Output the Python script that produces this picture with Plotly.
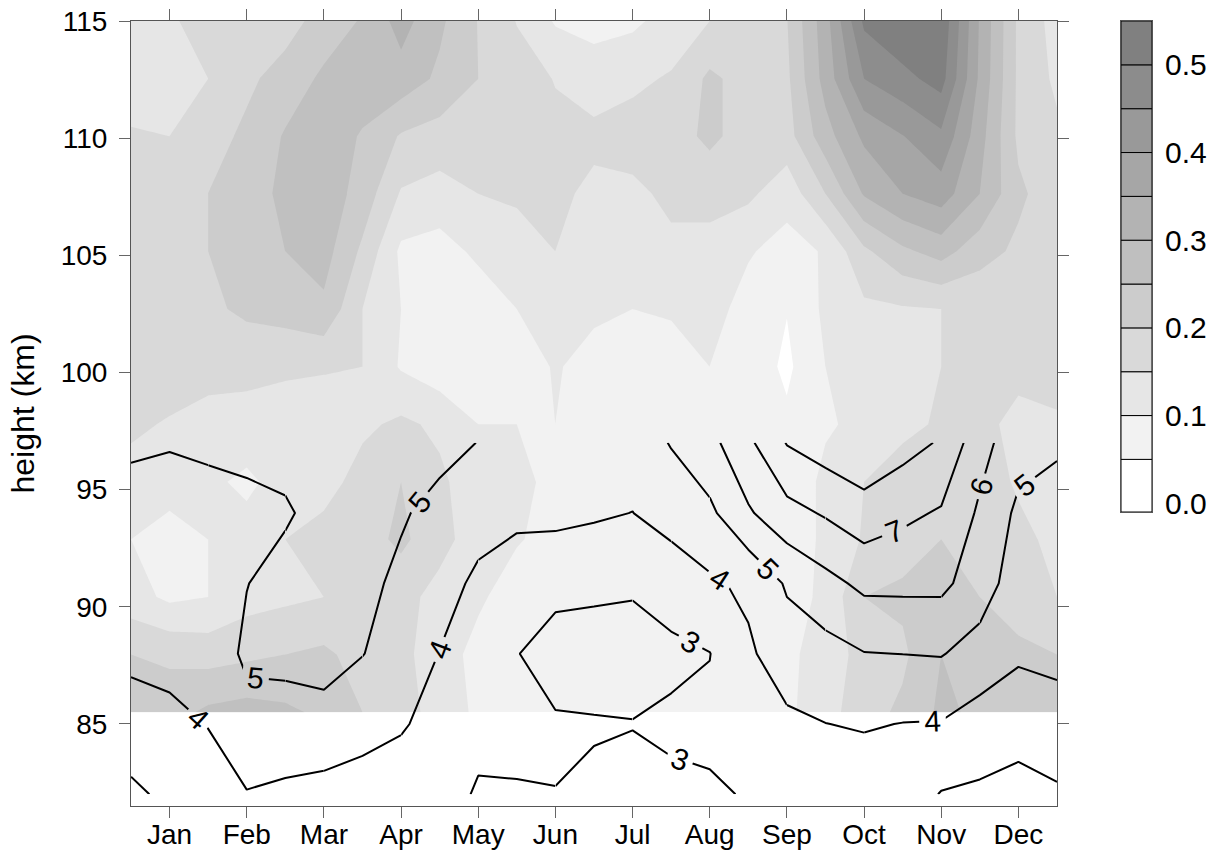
import plotly.graph_objects as go

# ---------------- data ----------------
month_labels = ["Jan", "Feb", "Mar", "Apr", "May", "Jun", "Jul", "Aug", "Sep", "Oct", "Nov", "Dec"]
month_ticks = [1, 2, 3, 4, 5, 6, 7, 8, 9, 10, 11, 12]
height_ticks = [85, 90, 95, 100, 105, 110, 115]

# half-month grid
grid_months = [0.5, 1.0, 1.5, 2.0, 2.5, 3.0, 3.5, 4.0, 4.5, 5.0, 5.5, 6.0, 6.5,
               7.0, 7.5, 8.0, 8.5, 9.0, 9.5, 10.0, 10.5, 11.0, 11.5, 12.0, 12.5]

# shaded field (rows = heights, columns = grid_months)
fill_heights = [85.5, 87.96, 90.42, 92.88, 95.33, 97.79, 100.25, 102.71, 105.17, 107.63, 110.08, 112.54, 115.0]
fill_values = [
    [0.22, 0.23, 0.26, 0.27, 0.26, 0.24, 0.20, 0.17, 0.13, 0.09, 0.07, 0.07, 0.07, 0.07, 0.07, 0.07, 0.07, 0.09, 0.13, 0.18, 0.21, 0.26, 0.24, 0.22, 0.21],
    [0.20, 0.19, 0.18, 0.19, 0.20, 0.21, 0.18, 0.16, 0.13, 0.08, 0.07, 0.07, 0.07, 0.07, 0.07, 0.07, 0.07, 0.09, 0.12, 0.17, 0.19, 0.25, 0.22, 0.21, 0.20],
    [0.12, 0.09, 0.10, 0.13, 0.14, 0.15, 0.17, 0.17, 0.13, 0.11, 0.07, 0.07, 0.07, 0.07, 0.07, 0.07, 0.07, 0.08, 0.11, 0.20, 0.21, 0.22, 0.20, 0.18, 0.15],
    [0.10, 0.08, 0.10, 0.12, 0.15, 0.17, 0.18, 0.21, 0.17, 0.12, 0.105, 0.08, 0.07, 0.07, 0.07, 0.07, 0.07, 0.07, 0.11, 0.155, 0.18, 0.20, 0.19, 0.16, 0.14],
    [0.13, 0.12, 0.11, 0.09, 0.12, 0.13, 0.17, 0.20, 0.16, 0.12, 0.11, 0.09, 0.07, 0.07, 0.07, 0.07, 0.07, 0.07, 0.11, 0.15, 0.17, 0.18, 0.17, 0.145, 0.13],
    [0.16, 0.145, 0.13, 0.13, 0.12, 0.12, 0.14, 0.16, 0.14, 0.10, 0.10, 0.10, 0.08, 0.07, 0.07, 0.07, 0.07, 0.06, 0.095, 0.11, 0.14, 0.155, 0.155, 0.145, 0.14],
    [0.18, 0.18, 0.17, 0.165, 0.16, 0.155, 0.15, 0.095, 0.07, 0.06, 0.07, 0.105, 0.08, 0.07, 0.08, 0.10, 0.08, 0.04, 0.10, 0.12, 0.13, 0.15, 0.17, 0.155, 0.18],
    [0.18, 0.18, 0.19, 0.21, 0.22, 0.24, 0.15, 0.10, 0.07, 0.07, 0.10, 0.12, 0.11, 0.10, 0.105, 0.12, 0.08, 0.052, 0.11, 0.14, 0.145, 0.15, 0.16, 0.17, 0.20],
    [0.17, 0.18, 0.20, 0.22, 0.25, 0.27, 0.19, 0.09, 0.08, 0.11, 0.12, 0.15, 0.13, 0.12, 0.14, 0.13, 0.105, 0.08, 0.105, 0.19, 0.24, 0.27, 0.22, 0.19, 0.17],
    [0.17, 0.18, 0.20, 0.23, 0.26, 0.28, 0.23, 0.145, 0.13, 0.15, 0.16, 0.16, 0.14, 0.14, 0.16, 0.17, 0.16, 0.12, 0.20, 0.305, 0.35, 0.375, 0.30, 0.21, 0.17],
    [0.155, 0.15, 0.18, 0.21, 0.255, 0.28, 0.245, 0.195, 0.18, 0.17, 0.17, 0.16, 0.16, 0.17, 0.18, 0.21, 0.18, 0.18, 0.28, 0.36, 0.398, 0.44, 0.32, 0.19, 0.16],
    [0.125, 0.135, 0.15, 0.19, 0.22, 0.26, 0.28, 0.28, 0.24, 0.20, 0.17, 0.148, 0.13, 0.14, 0.155, 0.21, 0.18, 0.19, 0.32, 0.45, 0.485, 0.52, 0.34, 0.19, 0.14],
    [0.12, 0.14, 0.18, 0.19, 0.18, 0.22, 0.255, 0.32, 0.26, 0.198, 0.148, 0.095, 0.08, 0.09, 0.12, 0.15, 0.18, 0.198, 0.33, 0.51, 0.545, 0.54, 0.345, 0.19, 0.13],
]

# line-contoured field (rows = heights, columns = grid_months)
line_heights = [82, 85, 88, 91, 94, 97]
line_values = [
    [4.10, 3.89, 3.60, 3.95, 3.90, 3.70, 3.70, 3.70, 3.40, 2.90, 2.90, 2.98, 2.70, 2.70, 2.80, 2.90, 3.05, 3.30, 3.40, 3.50, 3.55, 2.95, 2.85, 2.70, 2.90],
    [3.70, 3.70, 4.03, 4.70, 4.33, 4.60, 4.25, 4.056, 3.80, 3.275, 3.36, 3.15, 3.137, 3.03, 3.17, 3.18, 3.50, 3.80, 3.99, 4.07, 3.98, 3.95, 3.56, 3.35, 3.47],
    [4.15, 4.37, 4.50, 5.15, 5.42, 5.42, 5.03, 4.50, 3.98, 3.55, 3.05, 2.40, 2.10, 2.58, 2.78, 2.98, 3.85, 4.54, 4.65, 4.97, 5.01, 5.05, 4.63, 4.15, 4.32],
    [4.50, 4.60, 4.70, 4.98, 5.30, 5.50, 5.25, 4.80, 4.30, 3.85, 3.50, 3.42, 3.44, 3.135, 3.48, 3.85, 4.19, 5.11, 5.70, 6.22, 6.23, 6.23, 5.48, 4.50, 4.60],
    [4.75, 4.80, 4.85, 4.70, 4.90, 5.30, 5.25, 5.10, 4.70, 4.30, 4.20, 4.20, 4.09, 3.99, 4.35, 4.80, 5.88, 6.67, 7.10, 7.59, 7.21, 6.90, 5.85, 4.80, 4.80],
    [5.10, 5.03, 5.07, 5.30, 5.30, 5.40, 5.40, 5.40, 5.30, 4.98, 4.60, 4.60, 4.50, 4.40, 5.06, 5.70, 6.80, 8.05, 8.50, 8.82, 8.37, 7.90, 6.35, 5.40, 5.07],
]

# where each line level carries its in-line label:
# level -> list of (first row idx, last row idx, first col idx, last col idx, labelled)
label_plan = {
    3: [(0, 1, 0, 11, False), (0, 1, 11, 16, True), (0, 1, 16, 24, False),
        (1, 5, 0, 13, False), (1, 5, 13, 16, True), (1, 5, 16, 24, False)],
    4: [(0, 5, 0, 5, True), (0, 5, 5, 7, False), (0, 5, 7, 9, True), (0, 5, 9, 14, False),
        (0, 5, 14, 17, True), (0, 5, 17, 19, False), (0, 5, 19, 24, True)],
    5: [(0, 5, 0, 2, False), (0, 5, 2, 4, True), (0, 5, 4, 6, False), (0, 5, 6, 9, True),
        (0, 5, 9, 15, False), (0, 5, 15, 18, True), (0, 5, 18, 22, False), (0, 5, 22, 24, True)],
    6: [(0, 5, 0, 21, False), (0, 5, 21, 24, True)],
    7: [(0, 5, 0, 18, False), (0, 5, 18, 24, True)],
    8: [(0, 5, 0, 24, False)],
}

# shading levels and colour key
shade_start, shade_end, shade_step = 0.05, 0.5, 0.05
key_lower = [0.0, 0.05, 0.10, 0.15, 0.20, 0.25, 0.30, 0.35, 0.40, 0.45, 0.50]
key_colors = ["#ffffff", "#f2f2f2", "#e6e6e6", "#d9d9d9", "#cccccc", "#bfbfbf",
              "#b3b3b3", "#a6a6a6", "#999999", "#8c8c8c", "#808080"]
key_ticks = [0.0, 0.1, 0.2, 0.3, 0.4, 0.5]
key_range = [-0.01, 0.55]
gray_scale = [[0.0, "#ffffff"], [1.0, "#808080"]]

FONT = "Liberation Sans, Arial, sans-serif"
LABEL_FONT = dict(family=FONT, size=30, color="#000000")

fig = go.Figure()

# shaded contours
fig.add_trace(go.Contour(
    x=grid_months, y=fill_heights, z=fill_values,
    autocontour=False,
    contours=dict(start=shade_start, end=shade_end, size=shade_step,
                  coloring="fill", showlines=False),
    colorscale=gray_scale,
    line=dict(width=0, smoothing=0),
    showscale=False,
    hoverinfo="skip",
))

# line contours, one level per trace, cut into pieces so that each labelled
# piece receives its own in-line label
for level, pieces in label_plan.items():
    for r0, r1, c0, c1, labelled in pieces:
        fig.add_trace(go.Contour(
            x=grid_months[c0:c1 + 1],
            y=line_heights[r0:r1 + 1],
            z=[row[c0:c1 + 1] for row in line_values[r0:r1 + 1]],
            autocontour=False,
            contours=dict(start=level, end=level, size=1, coloring="none",
                          showlabels=labelled, labelfont=LABEL_FONT),
            line=dict(color="#000000", width=2, smoothing=0),
            showscale=False,
            hoverinfo="skip",
        ))

# colour key drawn as stacked boxes on its own small axes
key_base = [key_range[0]] + key_lower[1:]
key_top = key_lower[1:] + [key_range[1]]
fig.add_trace(go.Bar(
    x=[0] * len(key_lower), y=[t - b for t, b in zip(key_top, key_base)], base=key_base,
    width=1.0,
    marker=dict(color=key_colors, line=dict(color="#000000", width=1)),
    xaxis="x2", yaxis="y2", hoverinfo="skip", showlegend=False,
))

axis_common = dict(
    showline=True, linecolor="#555555", linewidth=1, mirror="ticks",
    ticks="outside", ticklen=11, tickwidth=1, tickcolor="#666666",
    showgrid=False, zeroline=False, automargin=False,
    tickfont=dict(family=FONT, size=28, color="#000000"),
)

# plot area: x 131..1057, y 21..806 ; key: x 1121..1152, y 21..512
main_dom_x = [0.0, 926 / 1090]
key_dom_x = [990 / 1090, 1021 / 1090]
key_dom_y = [294 / 785, 1.0]

fig.update_layout(
    width=1221, height=852, autosize=False,
    margin=dict(l=131, r=0, t=21, b=46, pad=0),
    paper_bgcolor="#ffffff", plot_bgcolor="#ffffff",
    font=dict(family=FONT, color="#000000"),
    showlegend=False, barmode="overlay",
    xaxis=dict(domain=main_dom_x, range=[0.5, 12.5], tickvals=month_ticks, ticktext=month_labels,
               ticklabelstandoff=-8, **axis_common),
    yaxis=dict(range=[81.5, 115], tickvals=height_ticks, ticklabelstandoff=6,
               title=dict(text="height (km)", font=dict(family=FONT, size=32, color="#000000"), standoff=16),
               **axis_common),
    xaxis2=dict(domain=key_dom_x, anchor="y2", range=[-0.5, 0.5], showticklabels=False,
                showline=True, mirror=True, linecolor="#555555", linewidth=1,
                ticks="", showgrid=False, zeroline=False, fixedrange=True),
    yaxis2=dict(domain=key_dom_y, anchor="x2", side="right", range=key_range,
                tickvals=key_ticks, ticktext=["%.1f" % v for v in key_ticks],
                showline=True, mirror=True, linecolor="#555555", linewidth=1,
                ticks="", showgrid=False, zeroline=False, fixedrange=True, ticklabelstandoff=6,
                tickfont=dict(family=FONT, size=30, color="#000000")),
)

fig.write_html("out.html")
